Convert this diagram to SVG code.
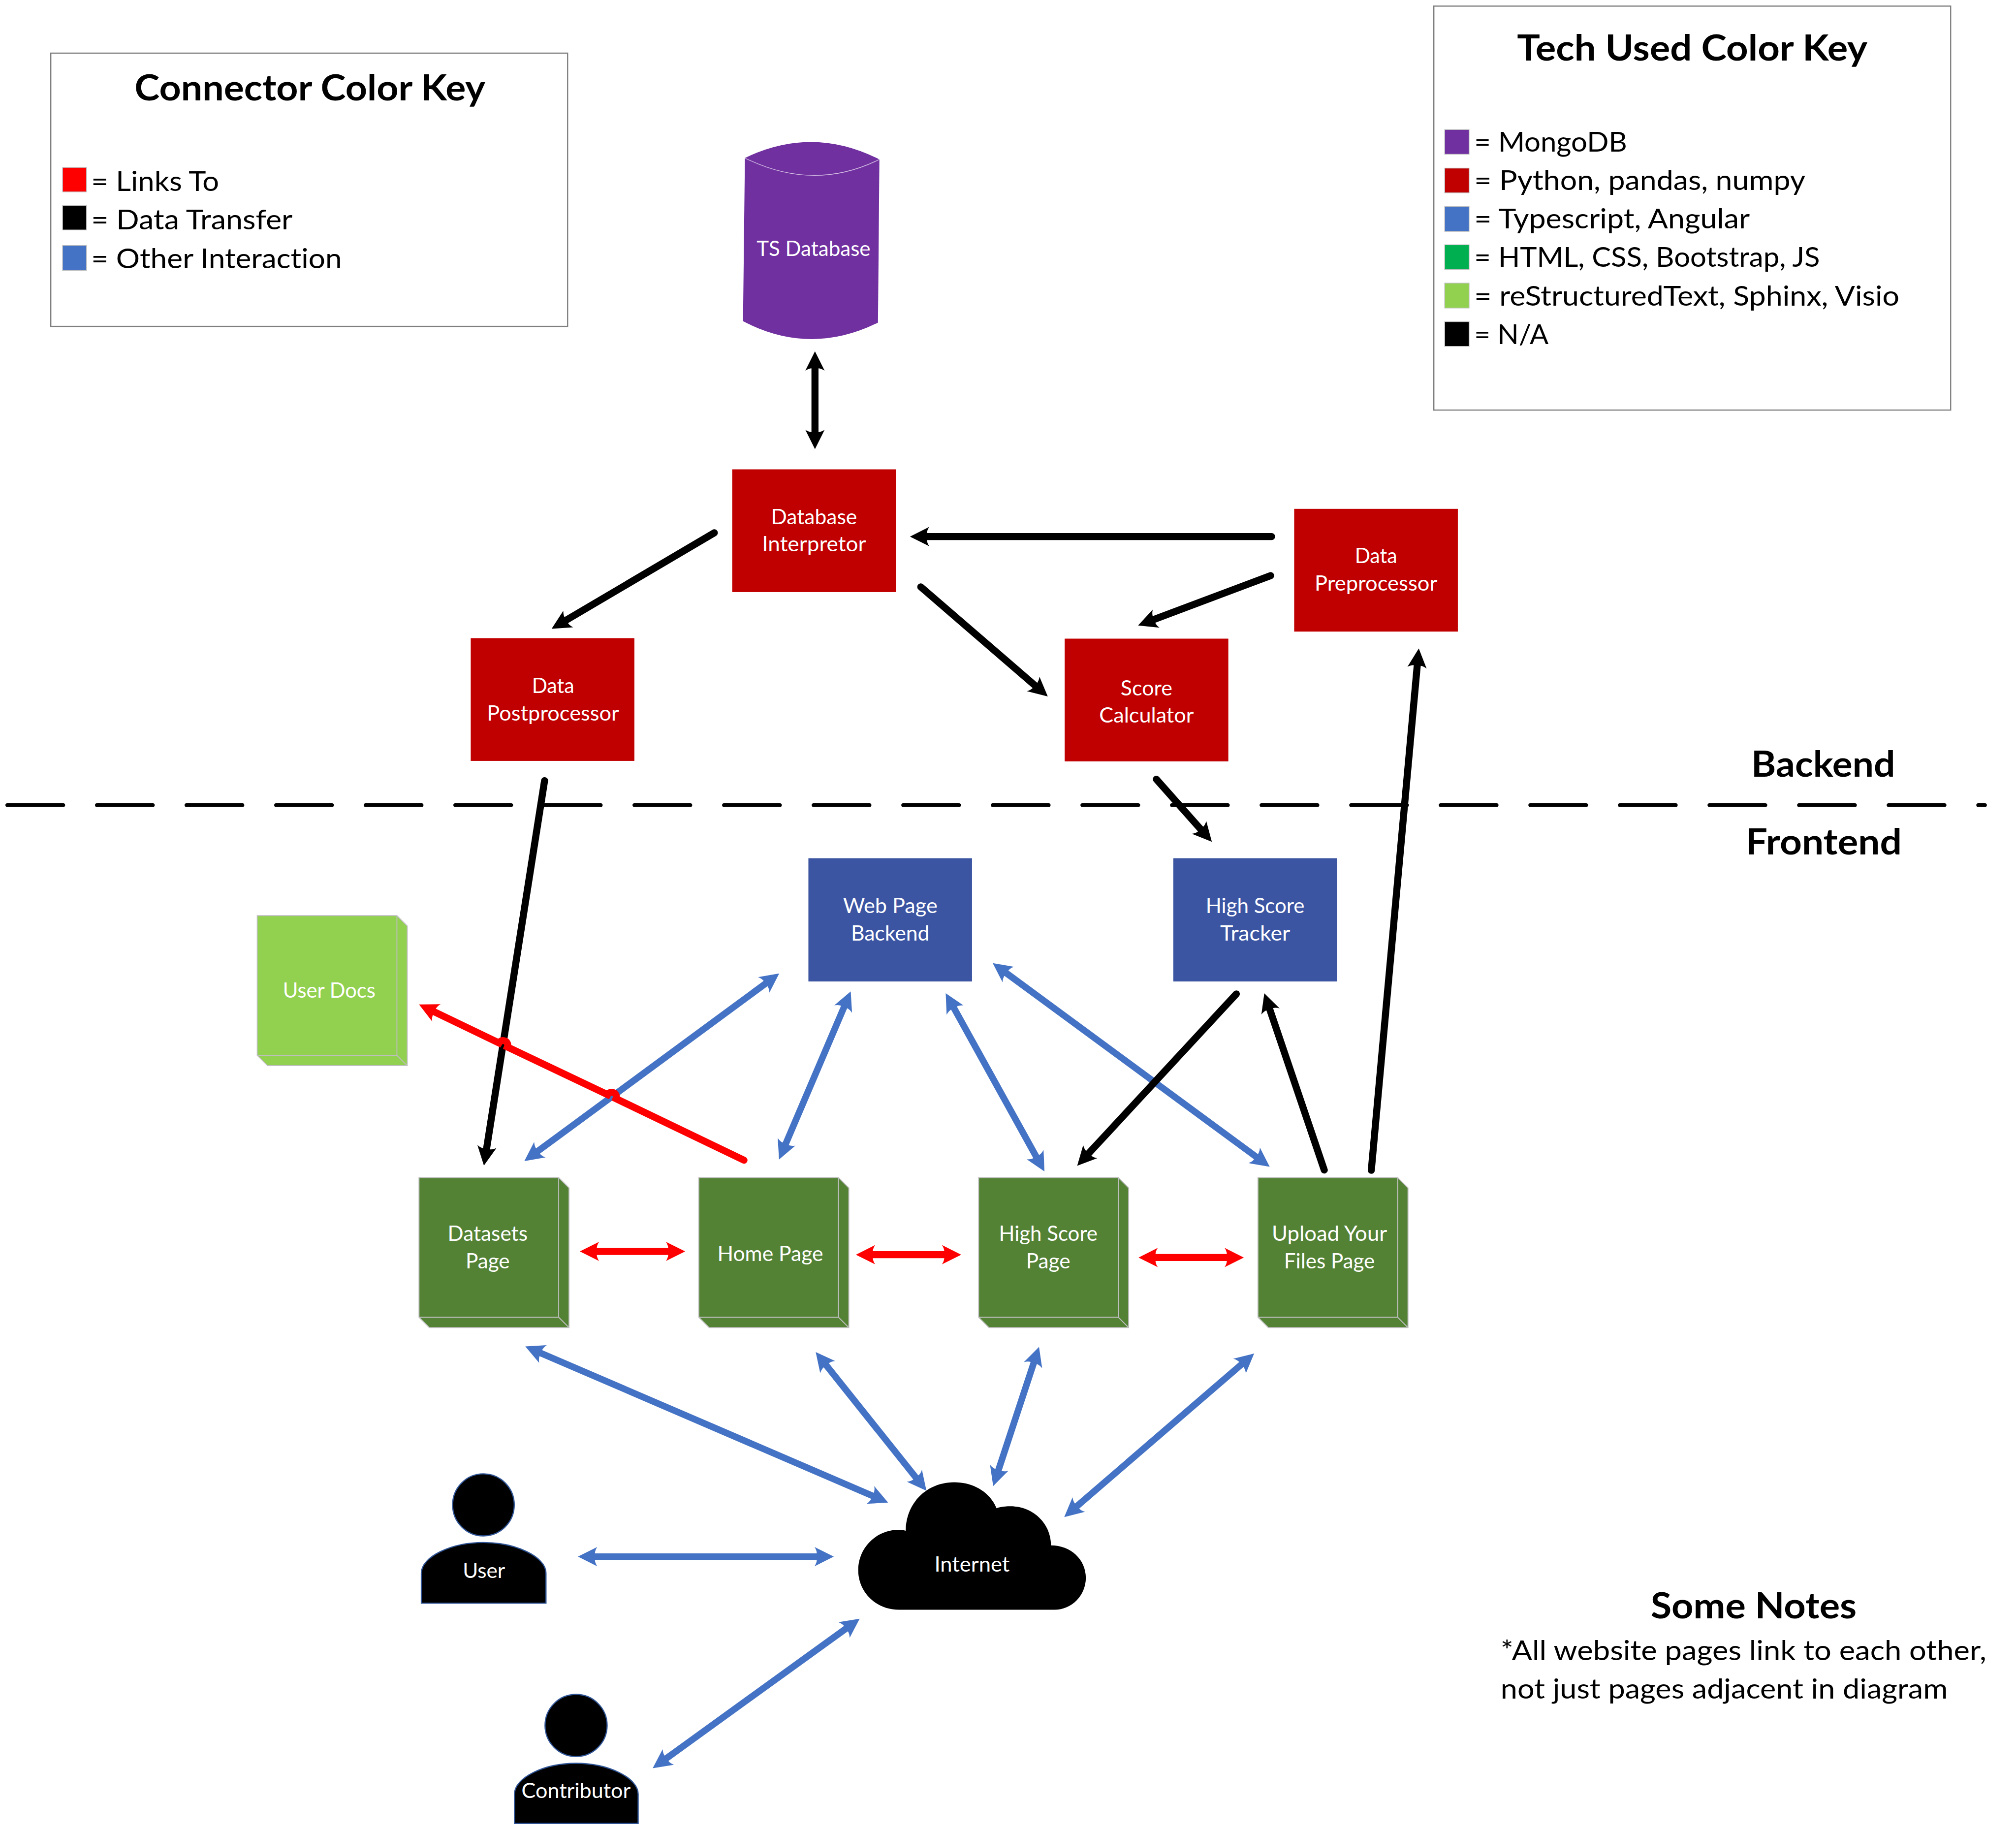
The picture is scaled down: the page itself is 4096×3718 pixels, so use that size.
<svg xmlns="http://www.w3.org/2000/svg" width="4096" height="3718" viewBox="0 0 4096 3718">
<style>
text{font-family:Lato,"Liberation Sans",sans-serif;font-variant-ligatures:none}
.t{font-size:76px;font-weight:700;fill:#000}
.k{font-size:59px;fill:#000}
.n{font-size:43.500px;fill:#fff;text-anchor:middle}
.key{fill:#fff;stroke:#7f7f7f;stroke-width:2.5}
.sw{stroke:#bfbfbf;stroke-width:1.5}
.box{stroke:#bfbfbf;stroke-width:2}
.r{fill:#c00000}
.b{fill:#3b55a3}
.g{fill:#548235}
.lg{fill:#92d050}
.p{fill:#000;stroke:#2f5597;stroke-width:2.5}
.c{fill:none;stroke-linecap:round}
.kc{stroke:#000;stroke-width:15;marker-end:url(#hk)}
.rc{stroke:#f00;stroke-width:15;marker-start:url(#hr);marker-end:url(#hr)}
.bc{stroke:#4472c4;stroke-width:14;marker-start:url(#hb);marker-end:url(#hb)}
</style>
<defs>
<path id="head" d="M41,0 L0,-20.5 Q5,-13 5,-6 L5,6 Q5,13 0,20.5 Z"/>
<marker id="hk" markerUnits="userSpaceOnUse" viewBox="-2 -25 48 50" markerWidth="48" markerHeight="50" refX="7" refY="0" orient="auto-start-reverse"><use href="#head" fill="#000"/></marker>
<marker id="hr" markerUnits="userSpaceOnUse" viewBox="-2 -25 48 50" markerWidth="48" markerHeight="50" refX="7" refY="0" orient="auto-start-reverse"><use href="#head" fill="#f00"/></marker>
<marker id="hb" markerUnits="userSpaceOnUse" viewBox="-2 -25 48 50" markerWidth="48" markerHeight="50" refX="7" refY="0" orient="auto-start-reverse"><use href="#head" fill="#4472c4"/></marker>
<g id="box3d">
<path d="M0,0 H297 L319,22 V319 H22 L0,297 Z"/>
<path d="M297,0 V297 H0 M297,297 L319,319" fill="none"/>
</g>
</defs>
<rect width="4096" height="3718" fill="#fff"/>
<g transform="scale(0.95546)">

<g id="connector-key">
<rect class="key" x="108" y="113" width="1099" height="581"/>
<text class="t" x="286" y="213.500" textLength="746" lengthAdjust="spacingAndGlyphs">Connector Color Key</text>
<rect class="sw" x="133" y="356" width="51" height="52" fill="#f00"/>
<rect class="sw" x="133" y="437" width="51" height="52" fill="#000"/>
<rect class="sw" x="133" y="522" width="51" height="53" fill="#4472c4"/>
<text class="k" x="194" y="406" textLength="272" lengthAdjust="spacingAndGlyphs">= Links To</text>
<text class="k" x="194" y="488" textLength="428" lengthAdjust="spacingAndGlyphs">= Data Transfer</text>
<text class="k" x="194" y="570" textLength="533" lengthAdjust="spacingAndGlyphs">= Other Interaction</text>
</g>

<g id="tech-key">
<rect class="key" x="3049" y="13" width="1099" height="859"/>
<text class="t" x="3226" y="129" textLength="745" lengthAdjust="spacingAndGlyphs">Tech Used Color Key</text>
<rect class="sw" x="3072" y="275.500" width="52" height="52.500" fill="#7030a0"/>
<rect class="sw" x="3072" y="357.500" width="52" height="52.500" fill="#c00000"/>
<rect class="sw" x="3072" y="439" width="52" height="53" fill="#4472c4"/>
<rect class="sw" x="3072" y="520.500" width="52" height="52.500" fill="#00b050"/>
<rect class="sw" x="3072" y="602" width="52" height="53" fill="#92d050"/>
<rect class="sw" x="3072" y="684" width="52" height="52.500" fill="#000"/>
<text class="k" x="3135" y="322" textLength="325" lengthAdjust="spacingAndGlyphs">= MongoDB</text>
<text class="k" x="3135" y="404" textLength="704" lengthAdjust="spacingAndGlyphs">= Python, pandas, numpy</text>
<text class="k" x="3135" y="486" textLength="586" lengthAdjust="spacingAndGlyphs">= Typescript, Angular</text>
<text class="k" x="3135" y="567.500" textLength="735" lengthAdjust="spacingAndGlyphs">= HTML, CSS, Bootstrap, JS</text>
<text class="k" x="3135" y="649.500" textLength="904" lengthAdjust="spacingAndGlyphs">= reStructuredText, Sphinx, Visio</text>
<text class="k" x="3135" y="732" textLength="158" lengthAdjust="spacingAndGlyphs">= N/A</text>
</g>

<g id="divider">
<line x1="15.500" y1="1712" x2="4221" y2="1712" stroke="#000" stroke-width="8" stroke-linecap="round" stroke-dasharray="119 71.5"/>
<text class="t" x="3724" y="1652" textLength="306" lengthAdjust="spacingAndGlyphs">Backend</text>
<text class="t" x="3712" y="1817" textLength="332" lengthAdjust="spacingAndGlyphs">Frontend</text>
</g>

<g id="notes">
<text class="t" x="3510" y="3441" textLength="438" lengthAdjust="spacingAndGlyphs">Some Notes</text>
<text class="k" x="3191" y="3530" textLength="1033" lengthAdjust="spacingAndGlyphs">*All website pages link to each other,</text>
<text class="k" x="3191" y="3612" textLength="951" lengthAdjust="spacingAndGlyphs">not just pages adjacent in diagram</text>
</g>

<g id="ts-database">
<path d="M1584,336 Q1727,266.500 1870,339 L1867,686 Q1723,757.500 1580,683 Z" fill="#7030a0"/>
<path d="M1584,336 Q1730,408.500 1870,339" fill="none" stroke="#d0b8e0" stroke-width="1.500"/>
<text class="n" x="1730" y="544" textLength="242" lengthAdjust="spacingAndGlyphs">TS Database</text>
</g>

<g id="database-interpretor">
<rect class="r" x="1557" y="998" width="348" height="261"/>
<text class="n" x="1731" y="1114.500" textLength="183" lengthAdjust="spacingAndGlyphs">Database</text>
<text class="n" x="1731" y="1172" textLength="221" lengthAdjust="spacingAndGlyphs">Interpretor</text>
</g>
<g id="data-preprocessor">
<rect class="r" x="2752" y="1082" width="348" height="261"/>
<text class="n" x="2926" y="1197" textLength="90" lengthAdjust="spacingAndGlyphs">Data</text>
<text class="n" x="2926" y="1256" textLength="261" lengthAdjust="spacingAndGlyphs">Preprocessor</text>
</g>
<g id="data-postprocessor">
<rect class="r" x="1001" y="1357" width="348" height="261"/>
<text class="n" x="1176" y="1474" textLength="90" lengthAdjust="spacingAndGlyphs">Data</text>
<text class="n" x="1176" y="1532" textLength="281" lengthAdjust="spacingAndGlyphs">Postprocessor</text>
</g>
<g id="score-calculator">
<rect class="r" x="2264" y="1358" width="348" height="261"/>
<text class="n" x="2438" y="1479" textLength="110" lengthAdjust="spacingAndGlyphs">Score</text>
<text class="n" x="2438" y="1536" textLength="201" lengthAdjust="spacingAndGlyphs">Calculator</text>
</g>
<g id="web-page-backend">
<rect class="b" x="1719" y="1825" width="348" height="262"/>
<text class="n" x="1893" y="1941" textLength="201" lengthAdjust="spacingAndGlyphs">Web Page</text>
<text class="n" x="1893" y="2000" textLength="167" lengthAdjust="spacingAndGlyphs">Backend</text>
</g>
<g id="high-score-tracker">
<rect class="b" x="2495" y="1825" width="348" height="262"/>
<text class="n" x="2669" y="1941" textLength="210" lengthAdjust="spacingAndGlyphs">High Score</text>
<text class="n" x="2669" y="2000" textLength="149" lengthAdjust="spacingAndGlyphs">Tracker</text>
</g>

<g id="user-docs">
<use href="#box3d" x="547" y="1947" class="lg box"/>
<text class="n" x="700" y="2122" textLength="197" lengthAdjust="spacingAndGlyphs">User Docs</text>
</g>
<g id="datasets-page">
<use href="#box3d" x="891" y="2504" class="g box"/>
<text class="n" x="1037" y="2638" textLength="170" lengthAdjust="spacingAndGlyphs">Datasets</text>
<text class="n" x="1037" y="2697" textLength="94" lengthAdjust="spacingAndGlyphs">Page</text>
</g>
<g id="home-page">
<use href="#box3d" x="1486" y="2504" class="g box"/>
<text class="n" x="1638" y="2681.500" textLength="225" lengthAdjust="spacingAndGlyphs">Home Page</text>
</g>
<g id="high-score-page">
<use href="#box3d" x="2081" y="2504" class="g box"/>
<text class="n" x="2229" y="2638" textLength="210" lengthAdjust="spacingAndGlyphs">High Score</text>
<text class="n" x="2229" y="2697" textLength="94" lengthAdjust="spacingAndGlyphs">Page</text>
</g>
<g id="upload-page">
<use href="#box3d" x="2675" y="2504" class="g box"/>
<text class="n" x="2827" y="2638" textLength="245" lengthAdjust="spacingAndGlyphs">Upload Your</text>
<text class="n" x="2827" y="2697" textLength="193" lengthAdjust="spacingAndGlyphs">Files Page</text>
</g>

<g id="internet">
<path d="M1912,3423 C1862,3423 1825,3385 1825,3339 C1825,3292 1862,3253 1912,3253 Q1920,3253 1926,3255 C1926,3195 1972,3152 2029,3152 C2070,3152 2105,3173 2119,3207 C2128,3204 2138,3203 2149,3203 C2197,3203 2235,3240 2235,3286 C2277,3286 2309,3316 2309,3355 C2309,3392 2280,3423 2242,3423 Z" fill="#000"/>
<text class="n" x="2067" y="3342" textLength="160" lengthAdjust="spacingAndGlyphs">Internet</text>
</g>
<g id="user">
<ellipse class="p" cx="1028" cy="3200" rx="65.500" ry="66"/>
<path class="p" d="M896,3409 V3345 C896,3310 960,3280 1028,3280 C1096,3280 1161,3310 1161,3345 V3409 Z"/>
<text class="n" x="1029" y="3355" textLength="90" lengthAdjust="spacingAndGlyphs">User</text>
</g>
<g id="contributor">
<ellipse class="p" cx="1225" cy="3669" rx="66" ry="66"/>
<path class="p" d="M1094,3877.500 V3815 C1094,3780 1157,3749.500 1225,3749.500 C1293,3749.500 1357,3780 1357,3815 V3877.500 Z"/>
<text class="n" x="1225" y="3823.500" textLength="232" lengthAdjust="spacingAndGlyphs">Contributor</text>
</g>

<g id="connectors">
<path class="c bc" d="M1142.400,2448.800 L1629.600,2090.200"/>
<path class="c bc" d="M1669.900,2434.300 L1795.700,2139.300"/>
<path class="c bc" d="M2027.500,2141.700 L2204.500,2461.300"/>
<path class="c bc" d="M2138.400,2068.100 L2672.600,2460.900"/>
<path class="c bc" d="M1148.200,2876.400 L1857.300,3181.600"/>
<path class="c bc" d="M1755.800,2901.600 L1948.800,3143.400"/>
<path class="c bc" d="M2198.800,2896.300 L2122.600,3127.700"/>
<path class="c bc" d="M2641.200,2900.200 L2288.800,3203.800"/>
<path class="c bc" d="M1263,3310 L1739,3310"/>
<path class="c bc" d="M1415.500,3740.100 L1800.500,3461.900"/>

<path class="c kc" style="marker-start:url(#hk)" d="M1733,781 L1733,921"/>
<path class="c kc" d="M1519,1133 L1202.300,1319.700"/>
<path class="c kc" d="M2704,1141 L1969,1141"/>
<path class="c kc" d="M1958,1248 L2202.300,1458.800"/>
<path class="c kc" d="M2702,1224 L2451.900,1318"/>
<path class="c kc" d="M2459,1657 L2554.400,1764.600"/>
<path class="c kc" d="M2916,2488.500 L3013.900,1412.900"/>
<path class="c kc" d="M1158,1660 L1034.300,2444.900"/>
<path class="c kc" d="M2629,2113.500 L2313.700,2454"/>
<path class="c kc" d="M2816,2488 L2699.400,2144.200"/>

<path class="c rc" d="M1267,2661 L1423,2661"/>
<path class="c rc" d="M1854,2668 L2010,2668"/>
<path class="c rc" d="M2455,2674 L2611,2674"/>
<path class="c" stroke="#f00" stroke-width="15" marker-end="url(#hr)" d="M1582,2467 L1310,2336.300 A10,10 0 0 0 1292,2327.700 L1079,2226.300 A10,10 0 0 0 1061,2217.700 L921.700,2150.700"/>
</g>
</g>
</svg>
